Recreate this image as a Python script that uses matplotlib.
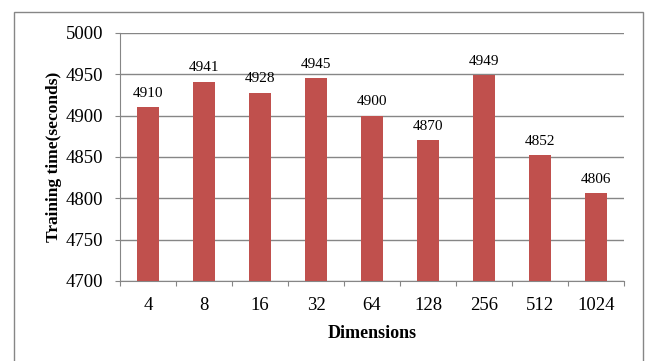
import matplotlib.pyplot as plt
import numpy as np
from matplotlib.patches import Rectangle

dims = ['4', '8', '16', '32', '64', '128', '256', '512', '1024']
train_time = [4910, 4941, 4928, 4945, 4900, 4870, 4949, 4852, 4806]
yticks = [4700, 4750, 4800, 4850, 4900, 4950, 5000]

plt.rcParams['font.family'] = ['Liberation Serif', 'DejaVu Serif']

fig = plt.figure(figsize=(6.46, 3.61), dpi=100)
ax = fig.add_axes([120 / 646, 1 - 281 / 361, 504 / 646, 248 / 361])

x = np.arange(len(dims))
ax.bar(x, np.array(train_time) - 4700, bottom=4700, width=0.4, color='#c0504d', zorder=3)
for xi, v in zip(x, train_time):
    ax.text(xi, v + 9, str(v), ha='center', va='bottom', fontsize=11)

ax.set_xlim(-0.5, len(dims) - 0.5)
ax.set_ylim(4700, 5000)
ax.set_yticks(yticks)
# category boundaries get the tick marks, labels sit in the middle
ax.set_xticks(np.arange(len(dims) + 1) - 0.5, minor=False)
ax.set_xticklabels([])
ax.set_xticks(x, minor=True)
ax.set_xticklabels(dims, minor=True, fontsize=13.5)
ax.tick_params(axis='x', which='major', length=3.6, color='#868686')
ax.tick_params(axis='x', which='minor', length=0, pad=11.5)
ax.tick_params(axis='y', length=3.6, color='#868686', labelsize=13.5, pad=8.6)
ax.yaxis.grid(True, color='#868686', linewidth=1, zorder=0)

for s in ['top', 'right']:
    ax.spines[s].set_visible(False)
for s in ['left', 'bottom']:
    ax.spines[s].set_color('#868686')

ax.set_ylabel('Training time(seconds)', fontsize=12.5, fontweight='bold', labelpad=2.5)
ax.set_xlabel('Dimensions', fontsize=13, fontweight='bold', labelpad=8)

# chart area border
fig.patches.append(Rectangle((14 / 646, -0.1), 629 / 646, 1.1 - 12 / 361,
                             transform=fig.transFigure, fill=False,
                             edgecolor='#868686', linewidth=1))

fig.savefig('out.png', dpi=100)
